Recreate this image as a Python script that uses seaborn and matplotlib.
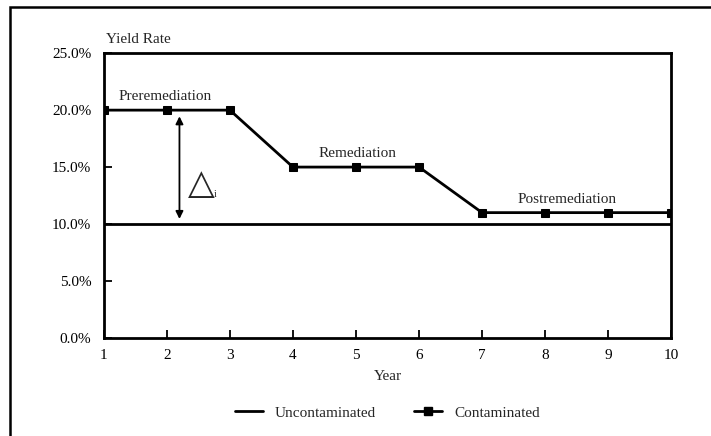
import pandas as pd
import seaborn as sns
import matplotlib.pyplot as plt
import matplotlib.lines as mlines
from matplotlib.patches import Rectangle

years = [1, 2, 3, 4, 5, 6, 7, 8, 9, 10]
contaminated = [20, 20, 20, 15, 15, 15, 11, 11, 11, 11]
uncontaminated = [10, 10, 10, 10, 10, 10, 10, 10, 10, 10]
y_ticks = [0, 5, 10, 15, 20, 25]
y_labels = ["0.0%", "5.0%", "10.0%", "15.0%", "20.0%", "25.0%"]
phases = ["Preremediation", "Remediation", "Postremediation"]

df = pd.DataFrame({"Year": years, "Contaminated": contaminated,
                   "Uncontaminated": uncontaminated})

sns.set_style("white")
plt.rcParams["font.family"] = ["Liberation Serif", "DejaVu Serif"]

fig = plt.figure(figsize=(7.11, 4.36), dpi=100)
ax = fig.add_axes([0.146, 0.225, 0.798, 0.653])

# outer frame (only left and top edges show, the picture is cropped)
fig.patches.append(Rectangle((0.014, -0.1), 1.2, 1.084, transform=fig.transFigure,
                             fill=False, edgecolor="black", linewidth=1.8))

sns.lineplot(x="Year", y="Uncontaminated", data=df, color="black", linewidth=2, ax=ax)
sns.lineplot(x="Year", y="Contaminated", data=df, color="black", linewidth=2,
             marker="s", markersize=6, markeredgecolor="black", ax=ax)

ax.set_xlim(1, 10)
ax.set_ylim(0, 25)
ax.set_xticks(years)
ax.set_yticks(y_ticks)
ax.set_yticklabels(y_labels)
ax.tick_params(axis="both", direction="in", length=6, width=1.3, labelsize=11,
               bottom=True, left=True, colors="black")
ax.tick_params(axis="y", pad=9)
ax.tick_params(axis="x", pad=8)
for s in ax.spines.values():
    s.set_linewidth(2)
    s.set_color("black")

ax.set_xlabel("Year", fontsize=11, labelpad=6)
ax.set_ylabel("")
ax.text(0.003, 1.025, "Yield Rate", transform=ax.transAxes, fontsize=11, ha="left", va="bottom")

# phase labels
ax.text(1.98, 20.6, phases[0], fontsize=11, ha="center", va="bottom")
ax.text(5.03, 15.6, phases[1], fontsize=11, ha="center", va="bottom")
ax.text(8.35, 11.6, phases[2], fontsize=11, ha="center", va="bottom")

# delta arrow
ax.annotate("", xy=(2.2, 10.2), xytext=(2.2, 19.7),
            arrowprops=dict(arrowstyle="<|-|>", color="black", lw=1.3,
                            mutation_scale=11))
ax.text(2.33, 13.5, "\u25B3", fontsize=25, ha="left", va="center",
        family=["DejaVu Sans"])
ax.text(2.75, 12.6, "i", fontsize=7, ha="left", va="center")

handles = [
    mlines.Line2D([], [], color="black", linewidth=2, label="Uncontaminated"),
    mlines.Line2D([], [], color="black", linewidth=2, marker="s", markersize=6,
                  label="Contaminated"),
]
fig.legend(handles=handles, loc="center", bbox_to_anchor=(0.545, 0.053), ncol=2,
           frameon=False, fontsize=11, handlelength=1.8, columnspacing=2.5)

fig.savefig("out.png", dpi=100)
